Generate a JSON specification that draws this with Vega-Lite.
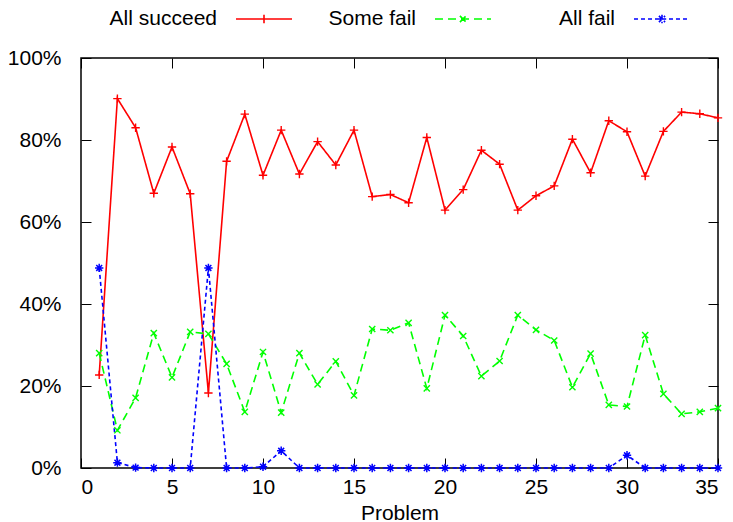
{
  "$schema": "https://vega.github.io/schema/vega-lite/v6.json",
  "width": 637,
  "height": 410,
  "autosize": {"type": "none"},
  "padding": {"left": 81, "top": 58, "right": 15, "bottom": 54},
  "config": {
    "font": "Liberation Sans",
    "view": {"stroke": "black", "strokeWidth": 1.5},
    "axis": {"grid": false, "domain": false, "tickColor": "black", "tickWidth": 1, "tickSize": -10, "labelFont": "Liberation Sans", "labelFontSize": 21, "labelColor": "black", "titleFont": "Liberation Sans", "titleFontSize": 21, "titleFontWeight": "normal", "titleColor": "black"}
  },
  "data": {"values": [
    {"p":1,"s":"All succeed","v":22.7},{"p":2,"s":"All succeed","v":90.1},{"p":3,"s":"All succeed","v":83.0},{"p":4,"s":"All succeed","v":67.0},{"p":5,"s":"All succeed","v":78.3},
    {"p":6,"s":"All succeed","v":66.9},{"p":7,"s":"All succeed","v":18.3},{"p":8,"s":"All succeed","v":74.8},{"p":9,"s":"All succeed","v":86.3},{"p":10,"s":"All succeed","v":71.4},
    {"p":11,"s":"All succeed","v":82.4},{"p":12,"s":"All succeed","v":71.7},{"p":13,"s":"All succeed","v":79.6},{"p":14,"s":"All succeed","v":73.9},{"p":15,"s":"All succeed","v":82.4},
    {"p":16,"s":"All succeed","v":66.2},{"p":17,"s":"All succeed","v":66.7},{"p":18,"s":"All succeed","v":64.7},{"p":19,"s":"All succeed","v":80.6},{"p":20,"s":"All succeed","v":62.9},
    {"p":21,"s":"All succeed","v":67.9},{"p":22,"s":"All succeed","v":77.5},{"p":23,"s":"All succeed","v":74.1},{"p":24,"s":"All succeed","v":62.9},{"p":25,"s":"All succeed","v":66.4},
    {"p":26,"s":"All succeed","v":68.8},{"p":27,"s":"All succeed","v":80.2},{"p":28,"s":"All succeed","v":72.0},{"p":29,"s":"All succeed","v":84.7},{"p":30,"s":"All succeed","v":82.0},
    {"p":31,"s":"All succeed","v":71.2},{"p":32,"s":"All succeed","v":82.1},{"p":33,"s":"All succeed","v":86.8},{"p":34,"s":"All succeed","v":86.4},{"p":35,"s":"All succeed","v":85.4},
    {"p":1,"s":"Some fail","v":28.0},{"p":2,"s":"Some fail","v":9.2},{"p":3,"s":"Some fail","v":17.1},{"p":4,"s":"Some fail","v":32.9},{"p":5,"s":"Some fail","v":22.1},
    {"p":6,"s":"Some fail","v":33.2},{"p":7,"s":"Some fail","v":32.7},{"p":8,"s":"Some fail","v":25.4},{"p":9,"s":"Some fail","v":13.7},{"p":10,"s":"Some fail","v":28.3},
    {"p":11,"s":"Some fail","v":13.5},{"p":12,"s":"Some fail","v":28.0},{"p":13,"s":"Some fail","v":20.4},{"p":14,"s":"Some fail","v":26.0},{"p":15,"s":"Some fail","v":17.7},
    {"p":16,"s":"Some fail","v":33.9},{"p":17,"s":"Some fail","v":33.6},{"p":18,"s":"Some fail","v":35.4},{"p":19,"s":"Some fail","v":19.4},{"p":20,"s":"Some fail","v":37.3},
    {"p":21,"s":"Some fail","v":32.2},{"p":22,"s":"Some fail","v":22.4},{"p":23,"s":"Some fail","v":26.1},{"p":24,"s":"Some fail","v":37.3},{"p":25,"s":"Some fail","v":33.7},
    {"p":26,"s":"Some fail","v":31.1},{"p":27,"s":"Some fail","v":19.7},{"p":28,"s":"Some fail","v":27.9},{"p":29,"s":"Some fail","v":15.4},{"p":30,"s":"Some fail","v":15.0},
    {"p":31,"s":"Some fail","v":32.4},{"p":32,"s":"Some fail","v":18.1},{"p":33,"s":"Some fail","v":13.2},{"p":34,"s":"Some fail","v":13.7},{"p":35,"s":"Some fail","v":14.6},
    {"p":1,"s":"All fail","v":48.8},{"p":2,"s":"All fail","v":1.3},{"p":3,"s":"All fail","v":0.1},{"p":4,"s":"All fail","v":0},{"p":5,"s":"All fail","v":0},
    {"p":6,"s":"All fail","v":0},{"p":7,"s":"All fail","v":48.8},{"p":8,"s":"All fail","v":0},{"p":9,"s":"All fail","v":0},{"p":10,"s":"All fail","v":0.3},
    {"p":11,"s":"All fail","v":4.2},{"p":12,"s":"All fail","v":0},{"p":13,"s":"All fail","v":0},{"p":14,"s":"All fail","v":0},{"p":15,"s":"All fail","v":0},
    {"p":16,"s":"All fail","v":0},{"p":17,"s":"All fail","v":0},{"p":18,"s":"All fail","v":0},{"p":19,"s":"All fail","v":0},{"p":20,"s":"All fail","v":0},
    {"p":21,"s":"All fail","v":0},{"p":22,"s":"All fail","v":0},{"p":23,"s":"All fail","v":0},{"p":24,"s":"All fail","v":0},{"p":25,"s":"All fail","v":0},
    {"p":26,"s":"All fail","v":0},{"p":27,"s":"All fail","v":0},{"p":28,"s":"All fail","v":0},{"p":29,"s":"All fail","v":0},{"p":30,"s":"All fail","v":3.1},
    {"p":31,"s":"All fail","v":0},{"p":32,"s":"All fail","v":0},{"p":33,"s":"All fail","v":0},{"p":34,"s":"All fail","v":0},{"p":35,"s":"All fail","v":0}
  ]},
  "layer": [
    {
      "mark": {"type": "line", "strokeWidth": 1.6},
      "encoding": {
        "x": {"field": "p", "type": "quantitative", "scale": {"domain": [0, 35], "nice": false},
              "axis": {"values": [0,5,10,15,20,25,30,35], "title": "Problem", "labelPadding": 18, "titlePadding": 5}},
        "y": {"field": "v", "type": "quantitative", "scale": {"domain": [0, 100], "nice": false},
              "axis": {"values": [0,20,40,60,80,100], "labelExpr": "datum.value + '%'", "title": null, "labelPadding": 30}},
        "color": {"field": "s", "type": "nominal",
                  "scale": {"domain": ["All succeed", "Some fail", "All fail"], "range": ["#ff0000", "#00ff00", "#0000ff"]},
                  "legend": {"title": null, "orient": "none", "direction": "horizontal", "legendX": 154, "legendY": -68,
                             "symbolType": "stroke", "symbolSize": 3136, "symbolStrokeWidth": 1.6,
                             "labelAlign": "right", "labelOffset": -76, "labelFontSize": 21, "labelColor": "black",
                             "labelFont": "Liberation Sans", "columnPadding": 32, "gridAlign": "all", "labelLimit": 300,
                             "encode": {"symbols": {"update": {"shape": {"signal": "datum.value === 'All succeed' ? 'M-1,0H1M0,-0.15V0.15' : datum.value === 'Some fail' ? 'M-1,0H1M-0.11,-0.11L0.11,0.11M-0.11,0.11L0.11,-0.11' : 'M-1,0H1M-0.15,0H0.15M0,-0.15V0.15M-0.11,-0.11L0.11,0.11M-0.11,0.11L0.11,-0.11'"}}}}}},
        "strokeDash": {"field": "s", "type": "nominal",
                       "scale": {"domain": ["All succeed", "Some fail", "All fail"], "range": [[1,0],[8,5],[4,3]]},
                       "legend": {"title": null, "orient": "none", "direction": "horizontal", "legendX": 154, "legendY": -68,
                             "symbolType": "stroke", "symbolSize": 3136, "symbolStrokeWidth": 1.6,
                             "labelAlign": "right", "labelOffset": -76, "labelFontSize": 21, "labelColor": "black",
                             "labelFont": "Liberation Sans", "columnPadding": 32, "gridAlign": "all", "labelLimit": 300,
                             "encode": {"symbols": {"update": {"shape": {"signal": "datum.value === 'All succeed' ? 'M-1,0H1M0,-0.15V0.15' : datum.value === 'Some fail' ? 'M-1,0H1M-0.11,-0.11L0.11,0.11M-0.11,0.11L0.11,-0.11' : 'M-1,0H1M-0.15,0H0.15M0,-0.15V0.15M-0.11,-0.11L0.11,0.11M-0.11,0.11L0.11,-0.11'"}}}}}}
      }
    },
    {
      "transform": [{"filter": "datum.s === 'All succeed'"}],
      "mark": {"type": "point", "filled": false, "strokeWidth": 1.4, "size": 70, "opacity": 1, "color": "#ff0000", "shape": "M-1,0H1M0,-1V1"},
      "encoding": {
        "x": {"field": "p", "type": "quantitative", "axis": {"orient": "top", "values": [0,5,10,15,20,25,30,35], "labels": false, "title": null}},
        "y": {"field": "v", "type": "quantitative", "axis": {"orient": "right", "values": [0,20,40,60,80,100], "labels": false, "title": null}}
      }
    },
    {
      "transform": [{"filter": "datum.s === 'Some fail'"}],
      "mark": {"type": "point", "filled": false, "strokeWidth": 1.4, "size": 60, "opacity": 1, "color": "#00ff00", "shape": "M-0.8,-0.8L0.8,0.8M-0.8,0.8L0.8,-0.8"},
      "encoding": {
        "x": {"field": "p", "type": "quantitative", "axis": null},
        "y": {"field": "v", "type": "quantitative", "axis": null}
      }
    },
    {
      "transform": [{"filter": "datum.s === 'All fail'"}],
      "mark": {"type": "point", "filled": false, "strokeWidth": 1.5, "size": 70, "opacity": 1, "color": "#0000ff", "shape": "M-1,0H1M0,-1V1M-0.7,-0.7L0.7,0.7M-0.7,0.7L0.7,-0.7"},
      "encoding": {
        "x": {"field": "p", "type": "quantitative", "axis": null},
        "y": {"field": "v", "type": "quantitative", "axis": null}
      }
    }
  ],
  "resolve": {"axis": {"x": "independent", "y": "independent"}}
}
